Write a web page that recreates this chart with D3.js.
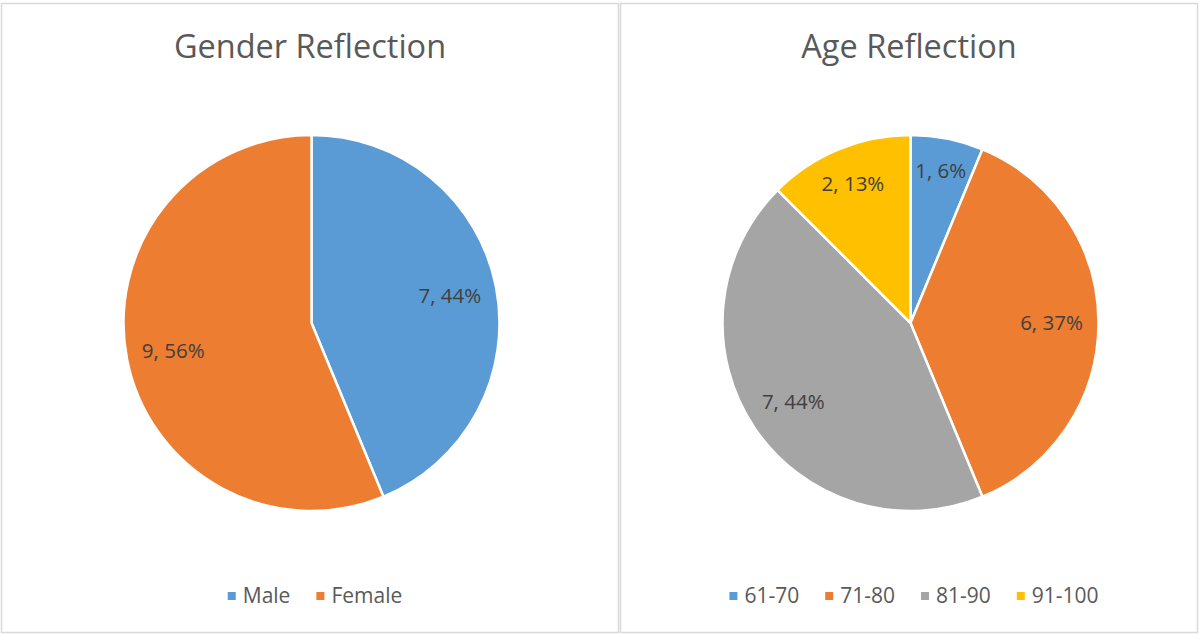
<!DOCTYPE html>
<html>
<head>
<meta charset="utf-8">
<script src="https://cdn.jsdelivr.net/npm/d3@7"></script>
<style>
  html, body { margin: 0; padding: 0; background: #fff; }
  svg { display: block; font-family: "Open Sans", sans-serif; }
</style>
</head>
<body>
<svg id="chart" width="1199" height="634"></svg>
<script>
// data
const genderCategories = ["Male", "Female"];
const genderValues = [7, 9];
const genderLabels = ["7, 44%", "9, 56%"];

const ageCategories = ["61-70", "71-80", "81-90", "91-100"];
const ageValues = [1, 6, 7, 2];
const ageLabels = ["1, 6%", "6, 37%", "7, 44%", "2, 13%"];

const COLORS = ["#5B9BD5", "#ED7D31", "#A5A5A5", "#FFC000"];
const TEXT = "#595959";

const svg = d3.select("#chart");

const panels = [
  { title: "Gender Reflection", cats: genderCategories, vals: genderValues, labels: genderLabels, x: 1.5, w: 617 },
  { title: "Age Reflection", cats: ageCategories, vals: ageValues, labels: ageLabels, x: 620.5, w: 577 }
];

const R = 188;
const CY = 323;

function drawPanel(p) {
  const g = svg.append("g");

  g.append("rect")
    .attr("x", p.x).attr("y", 3.5)
    .attr("width", p.w).attr("height", 629)
    .attr("fill", "#fff")
    .attr("stroke", "#d9d9d9")
    .attr("stroke-width", 1.5);

  const cx = p.x + p.w / 2;

  g.append("text")
    .attr("x", cx).attr("y", 58)
    .attr("text-anchor", "middle")
    .attr("font-size", 32.5)
    .attr("fill", TEXT)
    .text(p.title);

  const pie = d3.pie().sort(null).value((d) => d);
  const arcs = pie(p.vals);
  const arc = d3.arc().innerRadius(0).outerRadius(R);
  const color = d3.scaleOrdinal(p.cats, COLORS);

  const pg = g.append("g").attr("transform", `translate(${cx + 1.5},${CY})`);

  pg.selectAll("path")
    .data(arcs)
    .join("path")
    .attr("d", arc)
    .attr("fill", (d, i) => color(p.cats[i]))
    .attr("stroke", "#fff")
    .attr("stroke-width", 2.5)
    .attr("stroke-linejoin", "round");

  pg.selectAll("text")
    .data(arcs)
    .join("text")
    .attr("transform", (d) => {
      const span = d.endAngle - d.startAngle;
      const k = 0.75 + 0.1 * (1 - Math.min(1, span / (Math.PI / 2)));
      const a = (d.startAngle + d.endAngle) / 2;
      return `translate(${Math.sin(a) * R * k},${-Math.cos(a) * R * k})`;
    })
    .attr("text-anchor", "middle")
    .attr("dy", "0.35em")
    .attr("font-size", 20.5)
    .attr("fill", "#404040")
    .text((d, i) => p.labels[i]);

  // legend
  const lg = g.append("g");
  const items = lg.selectAll("g")
    .data(p.cats)
    .join("g");
  items.append("rect")
    .attr("width", 8).attr("height", 8)
    .attr("y", -4)
    .attr("fill", (d) => color(d));
  items.append("text")
    .attr("x", 15)
    .attr("dy", "0.35em")
    .attr("font-size", 21)
    .attr("fill", TEXT)
    .text((d) => d);

  let xoff = 0;
  items.each(function () {
    const w = this.getBBox().width;
    d3.select(this).attr("transform", `translate(${xoff},0)`);
    xoff += w + 26;
  });
  const total = xoff - 26;
  lg.attr("transform", `translate(${cx + 5 - total / 2},596)`);
}

panels.forEach(drawPanel);
</script>
</body>
</html>
